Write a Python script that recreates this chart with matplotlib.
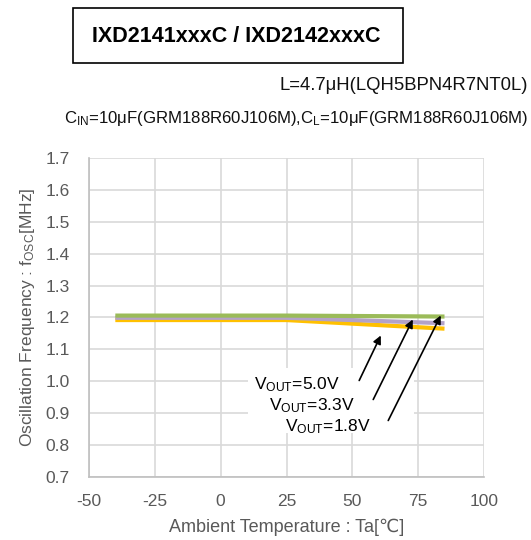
import matplotlib
matplotlib.use("Agg")
import matplotlib.pyplot as plt
from matplotlib.patches import Rectangle

plt.rcParams['font.family'] = ['Liberation Sans', 'DejaVu Sans']
plt.rcParams['axes.unicode_minus'] = False

temps = [-40, 25, 85]
f_5v0 = [1.206, 1.206, 1.203]
f_3v3 = [1.199, 1.199, 1.182]
f_1v8 = [1.192, 1.192, 1.165]
series_colors = ['#9bbb59', '#b3a2c7', '#ffc000']
series_labels = ['$\\mathregular{V_{OUT}}$=5.0V', '$\\mathregular{V_{OUT}}$=3.3V', '$\\mathregular{V_{OUT}}$=1.8V']

xticks = [-50, -25, 0, 25, 50, 75, 100]
yticks = [0.7, 0.8, 0.9, 1.0, 1.1, 1.2, 1.3, 1.4, 1.5, 1.6, 1.7]

W, H = 531, 540
fig = plt.figure(figsize=(W/100, H/100), dpi=100)
ax = fig.add_axes([89/W, 1-477/H, (484-89)/W, (477-158)/H])

for ys, c in [(f_1v8, series_colors[2]), (f_3v3, series_colors[1]), (f_5v0, series_colors[0])]:
    ax.plot(temps, ys, color=c, lw=3, solid_capstyle='butt', zorder=3)

ax.set_xlim(-50, 100)
ax.set_ylim(0.7, 1.7)
ax.set_xticks(xticks)
ax.set_yticks(yticks)
ax.set_yticklabels([f"{v:.1f}" for v in yticks])
ax.grid(True, color='#d9d9d9', lw=1.2, zorder=0)
ax.set_axisbelow(True)
for s in ['top', 'right']:
    ax.spines[s].set_visible(False)
for s in ['left', 'bottom']:
    ax.spines[s].set_color('#bfbfbf')
    ax.spines[s].set_linewidth(1.2)
ax.tick_params(length=0, labelsize=12.5, colors='#595959', pad=14)
ax.tick_params(axis='x', pad=12)
ax.set_xlabel('Ambient Temperature : Ta[℃]', fontsize=13, color='#595959', labelpad=7)
ax.set_ylabel('Oscillation Frequency : $\\mathregular{f_{OSC}}$[MHz]', fontsize=12.5, color='#595959', labelpad=6)

def px2data(px, py):
    return (-50 + (px-89)/(484-89)*150, 0.7 + (477-py)/(477-158))

# white box behind labels
x0, y0 = px2data(248, 433)
x1, y1 = px2data(414, 368)
ax.add_patch(Rectangle((x0, y0), x1-x0, y1-y0, facecolor='white', edgecolor='none', zorder=2))

label_pos = [(254, 385), (269, 406), (285, 427)]
arrow_tail = [(358, 383), (372, 402), (387, 423)]
arrow_head = [(382, 333), (414, 317), (442, 313)]
for lab, (lx, ly), t, h in zip(series_labels, label_pos, arrow_tail, arrow_head):
    tx, ty = px2data(lx, ly)
    ax.text(tx, ty, lab, fontsize=12.5, color='black', ha='left', va='center', zorder=5)
    ax.annotate('', xy=px2data(*h), xytext=px2data(*t),
                arrowprops=dict(arrowstyle='-|>', color='black', lw=1.2, mutation_scale=12), zorder=5)

# title box
fig.patches.append(Rectangle((73/W, 1-63/H), (403-73)/W, (63-8)/H, transform=fig.transFigure,
                             facecolor='white', edgecolor='black', lw=1.2))
fig.text(236/W, 1-36/H, 'IXD2141xxxC / IXD2142xxxC', fontsize=15.5, fontweight='bold', ha='center', va='center')
fig.text(528/W, 1-86/H, 'L=4.7μH(LQH5BPN4R7NT0L)', fontsize=13.3, ha='right', va='center', color='#111111')
fig.text(528/W, 1-119/H, '$\\mathregular{C_{IN}}$=10μF(GRM188R60J106M),$\\mathregular{C_{L}}$=10μF(GRM188R60J106M)',
         fontsize=12.1, ha='right', va='center', color='#111111')

fig.savefig('out.png', dpi=100)
